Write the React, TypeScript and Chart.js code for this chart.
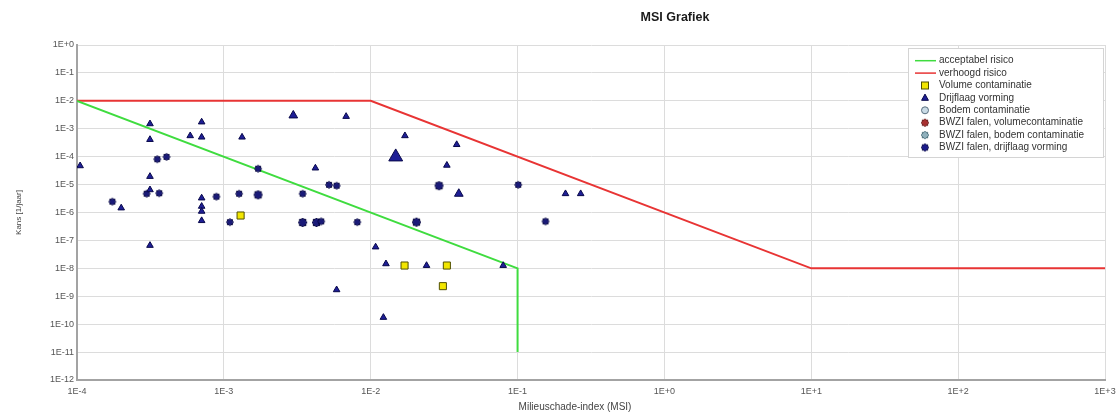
import React, { useEffect, useRef } from 'react';
import { Chart, registerables } from 'chart.js';

Chart.register(...registerables);

// ---------- text ----------
const chartTitle = 'MSI Grafiek';
const xTitle = 'Milieuschade-index (MSI)';
const yTitle = 'Kans [1/jaar]';

// ---------- ticks ----------
const xDecades = [1e-4, 1e-3, 1e-2, 1e-1, 1, 10, 100, 1000];
const xTickLabels = ['1E-4', '1E-3', '1E-2', '1E-1', '1E+0', '1E+1', '1E+2', '1E+3'];
const yDecades = [1e-12, 1e-11, 1e-10, 1e-9, 1e-8, 1e-7, 1e-6, 1e-5, 1e-4, 1e-3, 1e-2, 1e-1, 1];
const yTickLabels = ['1E-12', '1E-11', '1E-10', '1E-9', '1E-8', '1E-7', '1E-6', '1E-5', '1E-4', '1E-3', '1E-2', '1E-1', '1E+0'];

// ---------- series ----------
const seriesLabels = [
  'acceptabel risico',
  'verhoogd risico',
  'Volume contaminatie',
  'Drijflaag vorming',
  'Bodem contaminatie',
  'BWZI falen, volumecontaminatie',
  'BWZI falen, bodem contaminatie',
  'BWZI falen, drijflaag vorming',
];

const acceptabelX = [1e-4, 1e-1, 1e-1];
const acceptabelY = [1e-2, 1e-8, 1e-11];

const verhoogdX = [1e-4, 1e-2, 10, 1000];
const verhoogdY = [1e-2, 1e-2, 1e-8, 1e-8];

const volumeX = [1.3e-3, 1.7e-2, 3.3e-2, 3.1e-2];
const volumeY = [7.8e-7, 1.26e-8, 1.26e-8, 2.3e-9];

const drijflaagX = [
  1.05e-4, 3.14e-4, 3.14e-4, 7.06e-4, 5.9e-4, 7.06e-4, 1.33e-3, 2.97e-3, 4.2e-3, 3.14e-4,
  3.14e-4, 2.0e-4, 7.06e-4, 7.06e-4, 7.06e-4, 7.06e-4, 3.14e-4, 6.8e-3, 1.71e-2, 1.48e-2,
  3.85e-2, 3.3e-2, 3.98e-2, 1.08e-2, 1.27e-2, 2.4e-2, 5.86e-3, 7.98e-2, 1.22e-2, 0.212,
  0.269,
];
const drijflaagY = [
  4.7e-5, 1.5e-3, 4.1e-4, 1.74e-3, 5.6e-4, 5.0e-4, 5.0e-4, 3.0e-3, 3.9e-5, 1.95e-5,
  6.5e-6, 1.45e-6, 3.3e-6, 1.66e-6, 1.1e-6, 5.1e-7, 6.6e-8, 2.75e-3, 5.6e-4, 9.8e-5,
  2.7e-4, 4.9e-5, 4.7e-6, 5.8e-8, 1.45e-8, 1.26e-8, 1.7e-9, 1.26e-8, 1.74e-10, 4.7e-6,
  4.7e-6,
];

const bodemX: number[] = [];
const bodemY: number[] = [];
const bwziVolumeX: number[] = [];
const bwziVolumeY: number[] = [];
const bwziBodemX: number[] = [];
const bwziBodemY: number[] = [];

const bwziDrijflaagX = [
  3.52e-4, 4.07e-4, 1.71e-3, 2.98e-4, 3.63e-4, 1.74e-4, 8.9e-4, 1.27e-3, 1.71e-3, 1.1e-3,
  3.44e-3, 3.44e-3, 4.27e-3, 4.6e-3, 5.2e-3, 5.86e-3, 2.92e-2, 8.1e-3, 2.05e-2, 0.101,
  0.155,
];
const bwziDrijflaagY = [
  8.1e-5, 9.8e-5, 3.7e-5, 4.7e-6, 4.9e-6, 2.45e-6, 3.7e-6, 4.7e-6, 4.3e-6, 4.5e-7,
  4.7e-6, 4.4e-7, 4.4e-7, 4.8e-7, 9.8e-6, 9.1e-6, 9.1e-6, 4.5e-7, 4.5e-7, 9.8e-6,
  4.8e-7,
];

// ---------- styles (not data) ----------
const FONT = '"Liberation Sans", Arial, sans-serif';
const navyTri = '#1e1e96';
const navyTriBorder = '#08084a';
const navyStar = '#1a1a78';
const navyStarBorder = '#000038';
const triRadiusOverride: Record<number, number> = { 7: 5, 19: 8, 22: 5 };
const starBold = new Set([8, 11, 12, 16, 18]);

const zip = (xs: number[], ys: number[]) => xs.map((x, i) => ({ x, y: ys[i] }));

function makeStar(outer: number, fill: string, stroke: string) {
  const size = Math.ceil(outer * 2 + 2);
  const c = document.createElement('canvas');
  c.width = size;
  c.height = size;
  const g = c.getContext('2d')!;
  const cx = size / 2;
  const cy = size / 2;
  const n = 8;
  const inner = outer * 0.76;
  g.beginPath();
  for (let i = 0; i < n * 2; i++) {
    const r = i % 2 === 0 ? outer : inner;
    const a = (Math.PI * i) / n - Math.PI / 2;
    const px = cx + r * Math.cos(a);
    const py = cy + r * Math.sin(a);
    if (i === 0) g.moveTo(px, py);
    else g.lineTo(px, py);
  }
  g.closePath();
  g.fillStyle = fill;
  g.fill();
  g.lineWidth = 1;
  g.strokeStyle = stroke;
  g.stroke();
  return c;
}

export default function App() {
  const ref = useRef<HTMLCanvasElement | null>(null);

  useEffect(() => {
    document.body.style.margin = '0';
    const canvas = ref.current;
    if (!canvas) return;

    const starN = makeStar(3.6, navyStar, navyStarBorder);
    const starB = makeStar(4.5, navyStar, navyStarBorder);
    const legStarNavy = makeStar(3.8, '#1a1a8a', '#000040');
    const legStarRed = makeStar(3.8, '#a83030', '#601010');
    const legStarTeal = makeStar(3.8, '#8fb0bc', '#3d6470');

    const legendMarkers: Array<(ctx: CanvasRenderingContext2D, x: number, y: number) => void> = [
      (ctx, x, y) => {
        ctx.strokeStyle = '#3fdc3f';
        ctx.lineWidth = 1.5;
        ctx.beginPath();
        ctx.moveTo(x - 10, y);
        ctx.lineTo(x + 11, y);
        ctx.stroke();
      },
      (ctx, x, y) => {
        ctx.strokeStyle = '#e83434';
        ctx.lineWidth = 1.5;
        ctx.beginPath();
        ctx.moveTo(x - 10, y);
        ctx.lineTo(x + 11, y);
        ctx.stroke();
      },
      (ctx, x, y) => {
        ctx.fillStyle = '#f2e600';
        ctx.strokeStyle = '#505000';
        ctx.lineWidth = 1;
        ctx.fillRect(x - 3.5, y - 3.5, 7, 7);
        ctx.strokeRect(x - 3.5, y - 3.5, 7, 7);
      },
      (ctx, x, y) => {
        ctx.fillStyle = navyTri;
        ctx.strokeStyle = navyTriBorder;
        ctx.lineWidth = 1;
        ctx.beginPath();
        ctx.moveTo(x, y - 3.8);
        ctx.lineTo(x + 3.4, y + 2.4);
        ctx.lineTo(x - 3.4, y + 2.4);
        ctx.closePath();
        ctx.fill();
        ctx.stroke();
      },
      (ctx, x, y) => {
        ctx.fillStyle = '#c9dbe6';
        ctx.strokeStyle = '#5a7080';
        ctx.lineWidth = 1;
        ctx.beginPath();
        ctx.arc(x, y, 3.5, 0, Math.PI * 2);
        ctx.fill();
        ctx.stroke();
      },
      (ctx, x, y) => ctx.drawImage(legStarRed, x - legStarRed.width / 2, y - legStarRed.height / 2),
      (ctx, x, y) => ctx.drawImage(legStarTeal, x - legStarTeal.width / 2, y - legStarTeal.height / 2),
      (ctx, x, y) => ctx.drawImage(legStarNavy, x - legStarNavy.width / 2, y - legStarNavy.height / 2),
    ];

    const overlay = {
      id: 'overlay',
      afterDraw(chart: any) {
        const ctx: CanvasRenderingContext2D = chart.ctx;
        const area = chart.chartArea;
        ctx.save();
        // chart title
        ctx.fillStyle = '#1a1a1a';
        ctx.font = `bold 12.5px ${FONT}`;
        ctx.textAlign = 'center';
        ctx.textBaseline = 'middle';
        ctx.fillText(chartTitle, 675, 18);
        // axis titles
        ctx.fillStyle = '#444';
        ctx.font = `10px ${FONT}`;
        ctx.fillText(xTitle, 575, 407);
        ctx.save();
        ctx.font = `8px ${FONT}`;
        ctx.translate(19, (area.top + area.bottom) / 2);
        ctx.rotate(-Math.PI / 2);
        ctx.fillText(yTitle, 0, 0);
        ctx.restore();
        // legend box
        const bx = 908, by = 48, bw = 195, bh = 109;
        ctx.fillStyle = '#ffffff';
        ctx.fillRect(bx, by, bw, bh);
        ctx.strokeStyle = '#d4d4d4';
        ctx.lineWidth = 1;
        ctx.strokeRect(bx + 0.5, by + 0.5, bw, bh);
        ctx.font = `10px ${FONT}`;
        ctx.textAlign = 'left';
        ctx.textBaseline = 'middle';
        chart.data.datasets.forEach((ds: any, i: number) => {
          const y = 60.7 + i * 12.4;
          legendMarkers[i](ctx, 925, y);
          ctx.fillStyle = '#333';
          ctx.fillText(ds.label, 939, y);
        });
        ctx.restore();
      },
    };

    const tickFont = { family: FONT, size: 9 };

    const chart = new Chart(canvas, {
      type: 'scatter',
      data: {
        datasets: [
          {
            label: seriesLabels[0],
            data: zip(acceptabelX, acceptabelY),
            showLine: true,
            borderColor: '#3fdc3f',
            borderWidth: 2,
            pointRadius: 0,
            order: 10,
          },
          {
            label: seriesLabels[1],
            data: zip(verhoogdX, verhoogdY),
            showLine: true,
            borderColor: '#e83434',
            borderWidth: 2,
            pointRadius: 0,
            order: 10,
          },
          {
            label: seriesLabels[2],
            data: zip(volumeX, volumeY),
            pointStyle: 'rect',
            pointRadius: 5,
            backgroundColor: '#f2e600',
            borderColor: '#505000',
            borderWidth: 1,
            order: 1,
          },
          {
            label: seriesLabels[3],
            data: zip(drijflaagX, drijflaagY),
            pointStyle: 'triangle',
            pointRadius: (c: any) => triRadiusOverride[c.dataIndex] ?? 3.8,
            backgroundColor: navyTri,
            borderColor: navyTriBorder,
            borderWidth: 1,
            order: 2,
          },
          {
            label: seriesLabels[4],
            data: zip(bodemX, bodemY),
            pointStyle: 'circle',
            pointRadius: 4,
            backgroundColor: '#c9dbe6',
            borderColor: '#5a7080',
          },
          {
            label: seriesLabels[5],
            data: zip(bwziVolumeX, bwziVolumeY),
            pointStyle: legStarRed,
          },
          {
            label: seriesLabels[6],
            data: zip(bwziBodemX, bwziBodemY),
            pointStyle: legStarTeal,
          },
          {
            label: seriesLabels[7],
            data: zip(bwziDrijflaagX, bwziDrijflaagY),
            pointStyle: (c: any) => (starBold.has(c.dataIndex) ? starB : starN),
            pointRadius: 4,
            order: 3,
          },
        ] as any,
      },
      options: {
        responsive: false,
        animation: false,
        layout: { padding: { top: 45, right: 13, left: 0, bottom: 0 } },
        plugins: {
          legend: { display: false },
          title: { display: false },
          tooltip: { enabled: false },
        },
        scales: {
          x: {
            type: 'logarithmic',
            min: 1e-4,
            max: 1e3,
            afterBuildTicks: (s: any) => {
              s.ticks = xDecades.map((v) => ({ value: v }));
            },
            afterFit: (s: any) => {
              s.height = 34;
              s.paddingLeft = 0;
              s.paddingRight = 0;
            },
            ticks: {
              autoSkip: false,
              maxRotation: 0,
              minRotation: 0,
              padding: 6,
              color: '#555',
              font: tickFont,
              callback: (v: any) => {
                const i = xDecades.findIndex((d) => Math.abs(Math.log10(d) - Math.log10(Number(v))) < 1e-6);
                return i >= 0 ? xTickLabels[i] : '';
              },
            },
            grid: { color: '#dcdcdc', drawTicks: false },
            border: { color: '#a3a3a3', width: 2 },
          },
          y: {
            type: 'logarithmic',
            min: 1e-12,
            max: 1,
            afterBuildTicks: (s: any) => {
              s.ticks = yDecades.map((v) => ({ value: v }));
            },
            afterFit: (s: any) => {
              s.width = 77;
              s.paddingTop = 0;
              s.paddingBottom = 0;
            },
            ticks: {
              autoSkip: false,
              padding: 3,
              color: '#555',
              font: tickFont,
              callback: (v: any) => {
                const i = yDecades.findIndex((d) => Math.abs(Math.log10(d) - Math.log10(Number(v))) < 1e-6);
                return i >= 0 ? yTickLabels[i] : '';
              },
            },
            grid: { color: '#dcdcdc', drawTicks: false },
            border: { color: '#a3a3a3', width: 2 },
          },
        },
      } as any,
      plugins: [overlay],
    });

    return () => chart.destroy();
  }, []);

  return (
    <div style={{ width: 1118, height: 414 }}>
      <canvas ref={ref} width={1118} height={414} style={{ display: 'block' }} />
    </div>
  );
}
